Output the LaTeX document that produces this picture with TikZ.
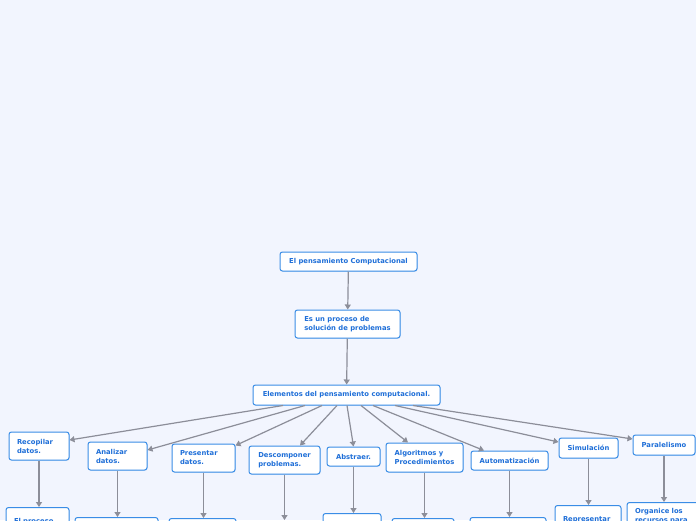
\documentclass[tikz,border=0pt]{standalone}
\usepackage{fontspec}
\usepackage{tikz}
\usetikzlibrary{shadows}
\usetikzlibrary{positioning, arrows.meta, calc}
\newfontfamily\mapfont{DejaVu Sans}
\definecolor{mapbg}{HTML}{F2F5FE}
\definecolor{mapborder}{HTML}{3A8DE6}
\definecolor{maptext}{HTML}{1F6FD8}
\definecolor{maplink}{HTML}{8C8E99}

\begin{document}
\begin{tikzpicture}[
        x=1pt, y=-1pt,
        concept/.style={draw=mapborder, line width=1pt, rectangle, rounded corners=2.5pt, fill=white, align=left, inner xsep=6pt, inner ysep=4pt, text=maptext, font=\mapfont\bfseries\fontsize{6.8}{9}\selectfont, drop shadow={shadow xshift=0.6pt, shadow yshift=-0.7pt, fill=mapborder, opacity=0.25}},
        leaf/.style={concept, anchor=north, minimum height=28pt},
        link/.style={draw=maplink, line width=1.2pt, -{Triangle[width=6pt,length=5pt]}}
    ]
        \fill[mapbg] (0,0) rectangle (696,520);
        \useasboundingbox (0,0) rectangle (696,520);
        \clip (0,0) rectangle (696,520);

        % Nodes
        \node[concept, minimum width=137pt, minimum height=19pt] (main) at (348.5, 261.5) {El pensamiento Computacional};
        \node[concept, minimum width=105pt, minimum height=28pt] (proc) at (347.5, 324) {Es un proceso de\\solución de problemas};
        \node[concept, minimum width=187pt, minimum height=20pt] (elem) at (346.5, 395) {Elementos del pensamiento computacional.};

        \node[concept, minimum width=60pt, minimum height=28pt, text width=44pt] (recop) at (39, 446) {Recopilar\\datos.};
        \node[concept, minimum width=59pt, minimum height=28pt, text width=43pt] (anal) at (117.5, 456) {Analizar\\datos.};
        \node[concept, minimum width=63pt, minimum height=28pt, text width=47pt] (pres) at (203.5, 458) {Presentar\\datos.};
        \node[concept, minimum width=71pt, minimum height=28pt] (desc) at (284.5, 460) {Descomponer\\problemas.};
        \node[concept, minimum width=53pt, minimum height=19pt] (abst) at (353.5, 456.5) {Abstraer.};
        \node[concept, minimum width=77pt, minimum height=29pt] (algo) at (424.5, 457.5) {Algoritmos y\\Procedimientos};
        \node[concept, minimum width=77pt, minimum height=19pt] (auto) at (509.5, 460.5) {Automatización};
        \node[concept, minimum width=59pt, minimum height=20pt] (simu) at (588.5, 448) {Simulación};
        \node[concept, minimum width=62pt, minimum height=20pt] (para) at (664, 445) {Paralelismo};

        \node[leaf, minimum width=63pt, text width=47pt] (proceso) at (37.5, 507) {El proceso};
        \node[leaf, minimum width=83pt] (analsub) at (116.5, 517) {};
        \node[leaf, minimum width=67pt] (pressub) at (202.5, 518) {};
        \coordinate (descsub) at (284.5, 520);
        \node[leaf, minimum width=58pt] (abstsub) at (352, 513) {};
        \node[leaf, minimum width=62pt] (algosub) at (423, 518) {};
        \node[leaf, minimum width=76pt] (autosub) at (508, 517) {};
        \node[leaf, minimum width=66pt, text width=50pt] (repr) at (588, 505) {Representar};
        \node[leaf, minimum width=74pt, text width=58pt] (recur) at (664, 502) {Organice los\\recursos para};

        % Edges
        \draw[link] (main) -- (proc);
        \draw[link] (proc) -- (elem);

        \draw[link] ([xshift=-63.5pt]elem.south) -- ([yshift=6pt]recop.east);
        \draw[link] ([xshift=-41.5pt]elem.south) -- ([yshift=6pt]anal.east);
        \draw[link] ([xshift=-24.5pt]elem.south) -- ([yshift=-2pt]pres.north east);
        \draw[link] ([xshift=-9.5pt]elem.south) -- ([xshift=15.5pt]desc.north);
        \draw[link] ([xshift=0.5pt]elem.south) -- (abst.north);
        \draw[link] ([xshift=14.5pt]elem.south) -- ([xshift=-16.5pt]algo.north);
        \draw[link] ([xshift=26.5pt]elem.south) -- ([xshift=-25.5pt]auto.north);
        \draw[link] ([xshift=48.5pt]elem.south) -- ([yshift=6pt]simu.west);
        \draw[link] ([xshift=66.5pt]elem.south) -- ([yshift=6pt]para.west);

        \draw[link] (recop) -- (recop |- proceso.north);
        \draw[link] (anal) -- (anal |- analsub.north);
        \draw[link] (pres) -- (pres |- pressub.north);
        \draw[link] (desc) -- (desc |- descsub);
        \draw[link] (abst) -- (abst |- abstsub.north);
        \draw[link] (algo) -- (algo |- algosub.north);
        \draw[link] (auto) -- (auto |- autosub.north);
        \draw[link] (simu) -- (simu |- repr.north);
        \draw[link] (para) -- (para |- recur.north);
    \end{tikzpicture}
\end{document}
